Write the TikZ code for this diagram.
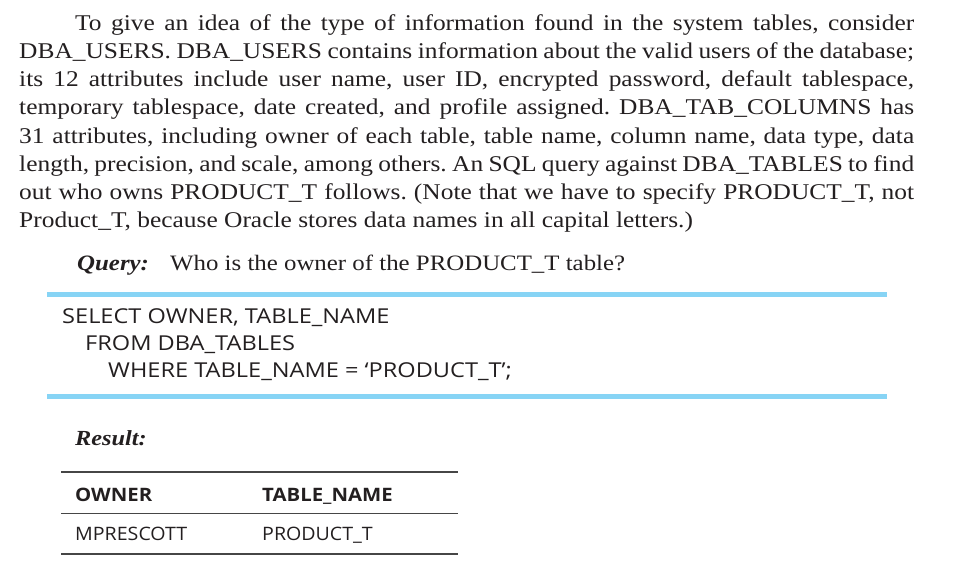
\documentclass[tikz,border=0pt]{standalone}
\usepackage{fontspec}
\setmainfont{Liberation Serif}[FakeStretch=1.13]
\newfontfamily\sqlfont{Open Sans}[FakeStretch=1.15]
\newfontfamily\tabfont{Open Sans}[FakeStretch=1.06,BoldFeatures={FakeStretch=1.10}]
\newcommand\pal{\rmfamily}
\definecolor{rulblue}{RGB}{135,212,245}
\definecolor{ink}{RGB}{35,31,32}
\definecolor{tabrule}{RGB}{70,70,70}
\tikzset{
  para/.style={anchor=base west,inner sep=0pt,font=\pal\fontsize{22.5}{28}\selectfont\frenchspacing,text=ink},
  sqltxt/.style={anchor=base west,inner sep=0pt,font=\sqlfont\fontsize{20.5}{27}\selectfont,text=ink},
  tabtxt/.style={anchor=base west,inner sep=0pt,font=\tabfont\fontsize{18.5}{24}\selectfont,text=ink},
  blueline/.style={rulblue,line width=5pt},
  tabline/.style={tabrule,line width=1.1pt}
}
\begin{document}
\begin{tikzpicture}[x=1pt,y=-1pt]
\useasboundingbox (0,0) rectangle (980,571);
\node[para] (l1) at (75,30) {\makebox[839pt][s]{To give an idea of the type of information found in the system tables, consider}};
\node[para] (l2) at (19,58.3) {\makebox[895pt][s]{DBA\_USERS. DBA\_USERS contains information about the valid users of the database;}};
\node[para] (l3) at (19,86.5) {\makebox[895pt][s]{its 12 attributes include user name, user ID, encrypted password, default tablespace,}};
\node[para] (l4) at (19,114.8) {\makebox[895pt][s]{temporary tablespace, date created, and profile assigned. DBA\_TAB\_COLUMNS has}};
\node[para] (l5) at (19,143) {\makebox[895pt][s]{31 attributes, including owner of each table, table name, column name, data type, data}};
\node[para] (l6) at (19,171.3) {\makebox[895pt][s]{length, precision, and scale, among others. An SQL query against DBA\_TABLES to find}};
\node[para] (l7) at (19,199.5) {\makebox[895pt][s]{out who owns PRODUCT\_T follows. (Note that we have to specify PRODUCT\_T, not}};
\node[para] (l8) at (19,227.8) {Product\_T, because Oracle stores data names in all capital letters.)};

\node[para,font=\pal\fontsize{22}{28}\selectfont\bfseries\itshape] (q) at (77,270) {Query:};
\node[para,font=\pal\fontsize{22}{28}\selectfont] (qt) at (170,270) {Who is the owner of the PRODUCT\_T table?};

\coordinate (b1l) at (47,294); \coordinate (b1r) at (887,294);
\coordinate (b2l) at (47,396.5); \coordinate (b2r) at (887,396.5);
\draw[blueline] (b1l) -- (b1r);
\draw[blueline] (b2l) -- (b2r);

\node[sqltxt] (s1) at (62,323) {SELECT OWNER, TABLE\_NAME};
\node[sqltxt] (s2) at (85,350) {FROM DBA\_TABLES};
\node[sqltxt] (s3) at (108,377) {WHERE TABLE\_NAME = ‘PRODUCT\_T’;};

\node[para,font=\pal\fontsize{21.5}{24}\selectfont\bfseries\itshape] (res) at (75,445) {Result:};

\coordinate (t1l) at (61,472); \coordinate (t1r) at (458,472);
\coordinate (t2l) at (61,513.5); \coordinate (t2r) at (458,513.5);
\coordinate (t3l) at (61,554); \coordinate (t3r) at (458,554);
\draw[tabline] (t1l) -- (t1r);
\draw[tabline] (t2l) -- (t2r);
\draw[tabline] (t3l) -- (t3r);

\node[tabtxt,font=\tabfont\fontsize{18.5}{24}\selectfont\bfseries] (h1) at (75,501.5) {OWNER};
\node[tabtxt,font=\tabfont\fontsize{18.5}{24}\selectfont\bfseries] (h2) at (262,501.5) {TABLE\_NAME};
\node[tabtxt] (d1) at (75,540) {MPRESCOTT};
\node[tabtxt] (d2) at (262,540) {PRODUCT\_T};
\end{tikzpicture}
\end{document}
